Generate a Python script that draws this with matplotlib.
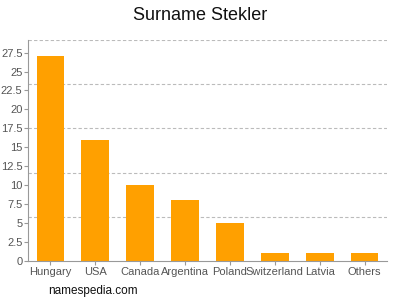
import matplotlib
matplotlib.use("Agg")
import matplotlib.pyplot as plt
import numpy as np

plt.rcParams["font.family"] = ["Liberation Sans", "DejaVu Sans"]

# data
countries = ["Hungary", "USA", "Canada", "Argentina", "Poland", "Switzerland", "Latvia", "Others"]
counts = [27, 16, 10, 8, 5, 1, 1, 1]
y_ticks = [0, 2.5, 5, 7.5, 10, 12.5, 15, 17.5, 20, 22.5, 25, 27.5]

bar_color = "#ffa000"
axis_color = "#999999"
text_color = "#555555"

fig = plt.figure(figsize=(4, 3), dpi=100)
ax = fig.add_axes([0.07, 0.13, 0.8975, 0.7367])

x = np.arange(len(countries))
ax.bar(x, counts, width=0.62, color=bar_color, zorder=2)

ymax = max(counts) * 1.08
ax.set_ylim(0, ymax)
ax.set_xlim(-0.5, len(countries) - 0.5)

# dashed grid split into 5 equal bands, not on the tick values
for g in np.linspace(0, ymax, 6)[1:]:
    ax.axhline(g, color="#bbbbbb", lw=0.8, ls=(0, (3, 2)), zorder=1)

ax.set_xticks(x)
ax.set_xticklabels(countries)
ax.set_yticks(y_ticks)
ax.set_yticklabels([f"{t:g}" for t in y_ticks])
ax.tick_params(axis="both", colors=axis_color, labelcolor=text_color, labelsize=8,
               length=3, width=0.8, pad=1)

for side in ["top", "right"]:
    ax.spines[side].set_visible(False)
for side in ["left", "bottom"]:
    ax.spines[side].set_color(axis_color)
    ax.spines[side].set_linewidth(0.8)

fig.text(0.5, 0.95, "Surname Stekler", ha="center", va="center", fontsize=13, color="#111111")
fig.text(0.12, 0.03, "namespedia.com", ha="left", va="center", fontsize=8.5, color="#111111")

fig.savefig("out.png", dpi=100)
